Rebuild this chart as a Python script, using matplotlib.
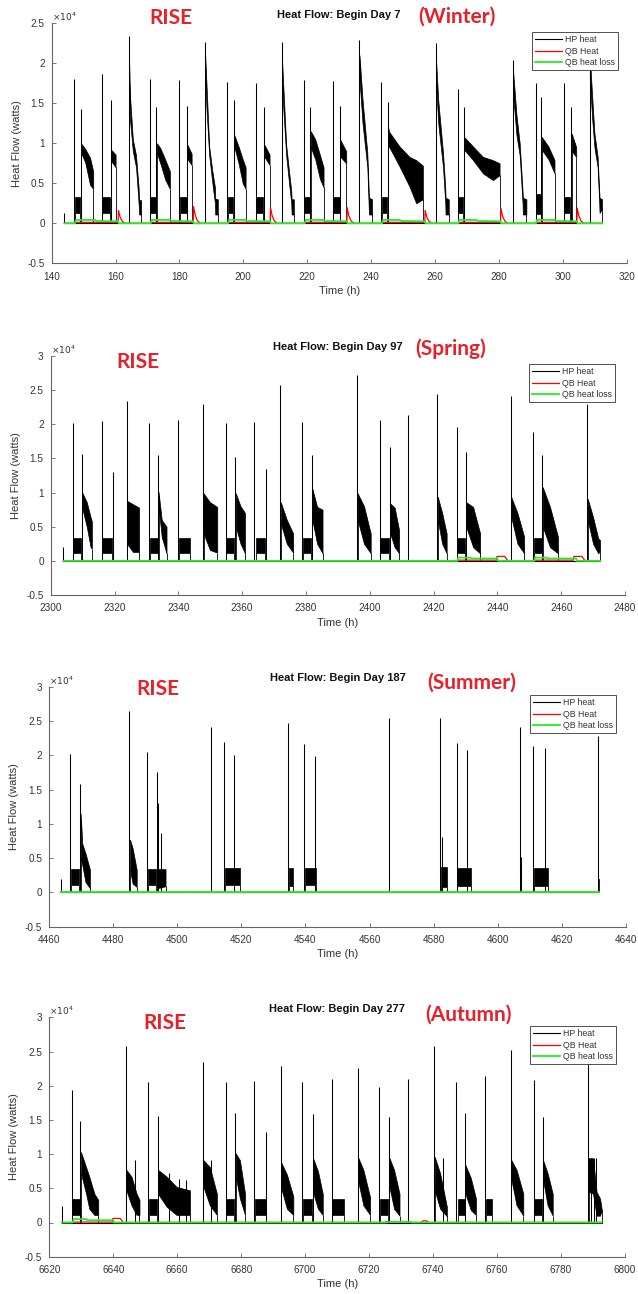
import matplotlib
matplotlib.use("Agg")
import matplotlib.pyplot as plt

W, H = 638, 1294

# ---------------- data ----------------
TITLES = ["Heat Flow: Begin Day 7", "Heat Flow: Begin Day 97",
          "Heat Flow: Begin Day 187", "Heat Flow: Begin Day 277"]
SEASONS = ["(Winter)", "(Spring)", "(Summer)", "(Autumn)"]
XLIMS = [(140, 320), (2300, 2480), (4460, 4640), (6620, 6800)]
YTOPS = [25000, 30000, 30000, 30000]
LEGEND_LABELS = ["HP heat", "QB Heat", "QB heat loss"]
T_RANGE = [(144.0, 312.3), (2304.0, 2472.2), (4463.5, 4631.6), (6623.9, 6792.7)]

# ---- Winter (Day 7) ----
W_SPIKE_T = [144.0, 147.0, 149.1, 155.8, 158.5, 164.1, 170.8, 172.8, 180.0, 182.4,
             188.0, 195.0, 197.1, 203.9, 206.5, 212.0, 219.0, 221.0, 228.0, 230.3,
             236.3, 243.1, 245.2, 260.2, 267.2, 269.0, 284.4, 291.5, 293.3, 300.3,
             302.7, 308.4]
W_SPIKE_V = [1300, 18000, 14300, 18700, 15400, 23400, 18000, 14600, 17900, 14700,
             22700, 17700, 15400, 17500, 14600, 22700, 17900, 14600, 17800, 14700,
             22900, 17700, 15200, 22500, 16800, 14600, 20400, 17500, 15800, 17500,
             14600, 22900]
W_BAND_T = [
    [147.2, 149.0], [149.2, 150.5, 152.0, 153.0],
    [155.9, 158.4], [158.6, 160.0],
    [164.15, 164.5, 165.4, 166.4, 167.2, 167.4, 168.0],
    [170.9, 172.7], [172.9, 174.0, 175.5, 177.0],
    [180.1, 182.2], [182.5, 183.8],
    [188.05, 188.5, 189.3, 190.3, 191.1, 191.2, 192.0],
    [195.1, 196.9], [197.2, 198.5, 199.8, 200.7],
    [204.0, 206.3], [206.6, 208.2],
    [212.05, 212.4, 213.4, 214.3, 215.0, 215.1, 215.8],
    [219.1, 220.9], [221.1, 222.5, 224.0, 225.1],
    [228.1, 230.1], [230.4, 232.2],
    [236.35, 237.3, 238.8, 239.2, 239.3, 240.3],
    [243.4, 244.9], [245.3, 245.7, 248.9, 252.0, 254.1, 256.2],
    [260.25, 261.0, 262.5, 263.2, 263.3, 264.3],
    [267.3, 268.9], [269.1, 271.9, 275.0, 278.1, 280.2],
    [284.45, 285.5, 286.5, 287.4, 287.5, 288.6],
    [291.6, 293.1], [293.4, 295.5, 297.4],
    [300.5, 302.4], [302.8, 304.2],
    [308.45, 309.2, 309.9, 310.9, 311.4, 311.5, 312.3],
]
W_BAND_HI = [
    [3300, 3300], [10000, 9300, 8200, 6500],
    [3300, 3300], [9200, 8600],
    [22000, 16000, 10500, 8500, 4500, 2900, 2900],
    [3300, 3300], [10000, 9400, 8000, 6500],
    [3300, 3300], [9800, 8700],
    [21000, 17000, 9600, 6500, 4500, 3100, 3000],
    [3300, 3300], [11000, 9600, 8000, 7000],
    [3300, 3300], [9800, 8600],
    [21000, 18000, 9800, 6500, 4000, 3000, 3000],
    [3300, 3300], [11500, 10500, 8500, 7000],
    [3300, 3300], [10400, 9000],
    [21000, 15500, 8800, 4500, 3200, 3000],
    [3300, 3300], [12000, 11400, 9600, 8300, 7900, 7200],
    [21000, 15400, 8800, 4500, 3200, 3000],
    [3300, 3300], [10800, 9600, 8300, 7900, 7500],
    [19000, 13500, 10000, 4000, 3200, 3000],
    [3700, 3700], [10800, 9600, 7900],
    [3300, 3300], [11200, 9500],
    [21000, 15800, 11250, 8300, 4000, 3200, 3000],
]
W_BAND_LO = [
    [1300, 1300], [8800, 7600, 4800, 4300],
    [1300, 1300], [7800, 7000],
    [19000, 13000, 9000, 7000, 2500, 1100, 1100],
    [1300, 1300], [8800, 7500, 5500, 4300],
    [1300, 1300], [8000, 7300],
    [18000, 14000, 8500, 5000, 2500, 1100, 1100],
    [1300, 1300], [9500, 7500, 5000, 4300],
    [1300, 1300], [8300, 7300],
    [18000, 15000, 8500, 5000, 2500, 1100, 1100],
    [1300, 1300], [9500, 8000, 5500, 4500],
    [1300, 1300], [8300, 7500],
    [18000, 12500, 7000, 2500, 1100, 1100],
    [1300, 1300], [9500, 9500, 7100, 4600, 2500, 3000],
    [18000, 12500, 7000, 2500, 1100, 1100],
    [1300, 1300], [9200, 7900, 6250, 5400, 6000],
    [16000, 11000, 8500, 2500, 1100, 1100],
    [1200, 1200], [9200, 8000, 6250],
    [1300, 1300], [9000, 8300],
    [18000, 13000, 9500, 7000, 2500, 1300, 1800],
]
W_RED_T = [144.0, 147.3, 147.5, 160.8, 160.9, 161.4, 162.1, 163.0,
           171.0, 171.2, 184.3, 184.4, 184.9, 185.6, 186.5,
           195.2, 195.4, 208.4, 208.5, 209.0, 209.7, 210.6,
           219.2, 219.4, 232.4, 232.5, 233.0, 233.7, 234.6,
           243.4, 243.6, 256.8, 256.9, 257.4, 258.1, 259.0,
           267.3, 267.5, 280.5, 280.6, 281.1, 281.8, 282.7,
           291.6, 291.8, 304.4, 304.5, 305.0, 305.7, 306.6, 312.3]
W_RED_V = [0, 0, 120, 120, 1600, 800, 250, 0,
           0, 120, 120, 2100, 1050, 320, 0,
           0, 120, 120, 1950, 950, 300, 0,
           0, 120, 120, 1950, 950, 300, 0,
           0, 120, 120, 1600, 800, 250, 0,
           0, 120, 120, 1900, 950, 300, 0,
           0, 120, 120, 1900, 950, 300, 0, 0]
W_GREEN_T = [144.0,
             147.3, 147.6, 153.5, 154.0, 160.8, 161.0,
             171.0, 171.3, 177.0, 177.5, 184.3, 184.5,
             195.2, 195.5, 200.7, 201.2, 208.4, 208.6,
             219.2, 219.5, 225.1, 225.6, 232.4, 232.6,
             243.4, 243.7, 249.0, 249.5, 256.8, 257.0,
             267.3, 267.6, 273.0, 273.5, 280.5, 280.7,
             291.6, 291.9, 297.4, 297.9, 304.4, 304.6,
             312.3]
W_GREEN_V = [0,
             0, 420, 420, 290, 250, 0,
             0, 420, 420, 290, 250, 0,
             0, 420, 420, 290, 250, 0,
             0, 420, 420, 290, 250, 0,
             0, 420, 420, 290, 250, 0,
             0, 420, 420, 290, 250, 0,
             0, 420, 420, 290, 250, 0,
             0]

# ---- Spring (Day 97) ----
SP_SPIKE_T = [2304.0, 2306.9, 2309.7, 2316.0, 2319.4, 2323.8, 2330.9, 2333.7, 2340.0,
              2347.8, 2354.9, 2357.9, 2363.8, 2367.4, 2372.0, 2378.9, 2381.9, 2396.1,
              2403.1, 2406.3, 2412.1, 2421.2, 2427.3, 2430.1, 2444.2, 2451.3, 2454.1,
              2468.2]
SP_SPIKE_V = [2000, 20200, 15700, 20500, 13000, 23400, 20200, 15500, 20700,
              23000, 20200, 15200, 20300, 13400, 25700, 20400, 15500, 27200,
              20600, 16700, 21400, 24400, 19600, 16000, 24100, 18900, 15500,
              23000]
SP_BAND_T = [
    [2307.1, 2309.5], [2309.8, 2311.3, 2312.5, 2312.9],
    [2316.2, 2319.2],
    [2323.9, 2325.8, 2327.7],
    [2331.1, 2333.5], [2333.8, 2334.8, 2336.3],
    [2340.2, 2343.8],
    [2347.9, 2349.9, 2352.2],
    [2355.1, 2357.6], [2358.0, 2359.5, 2360.9],
    [2364.4, 2367.2],
    [2372.1, 2374.0, 2376.0],
    [2379.1, 2381.7], [2382.0, 2383.5, 2385.2],
    [2396.2, 2398.2, 2400.3],
    [2403.3, 2406.0], [2406.4, 2407.8, 2409.2],
    [2421.3, 2422.7, 2424.1],
    [2427.5, 2429.9], [2430.2, 2432.4, 2434.6],
    [2444.3, 2446.3, 2448.4],
    [2451.5, 2453.9], [2454.2, 2456.5, 2459.0],
    [2468.3, 2470.0, 2471.6, 2472.2],
]
SP_BAND_HI = [
    [3400, 3400], [10100, 8600, 6400, 5800],
    [3400, 3400],
    [8800, 8300, 7800],
    [3400, 3400], [10100, 6000, 5000],
    [3400, 3400],
    [9900, 8600, 7900],
    [3400, 3400], [9900, 8000, 7000],
    [3400, 3400],
    [8600, 6000, 4000],
    [3400, 3400], [10600, 7900, 7500],
    [9900, 8000, 4000],
    [3400, 3400], [8400, 7800, 4500],
    [9400, 7000, 4000],
    [3400, 3400], [8600, 7900, 4000],
    [9400, 7000, 3500],
    [3400, 3400], [10800, 7900, 3500],
    [9100, 6400, 3300, 3000],
]
SP_BAND_LO = [
    [1100, 1100], [7900, 5000, 2000, 1800],
    [1100, 1100],
    [2500, 1300, 1300],
    [1100, 1100], [8000, 3500, 1100],
    [1100, 1100],
    [4000, 1600, 1200],
    [1100, 1100], [5000, 2500, 1100],
    [1100, 1100],
    [5500, 2500, 1200],
    [1100, 1100], [6000, 2500, 1100],
    [6000, 2500, 1100],
    [1100, 1100], [4000, 2000, 1100],
    [6000, 2500, 1100],
    [1100, 1100], [5000, 2000, 1100],
    [6500, 2500, 1100],
    [1100, 1100], [5000, 2000, 1100],
    [6000, 2500, 1100, 1500],
]
SP_RED_T = [2304.0, 2427.2, 2427.4, 2439.7, 2439.9, 2442.3, 2443.3,
            2451.3, 2451.5, 2463.8, 2464.0, 2466.5, 2467.5, 2472.2]
SP_RED_V = [0, 0, 100, 100, 650, 650, 0,
            0, 100, 100, 650, 650, 0, 0]
SP_GREEN_T = [2304.0, 2427.5, 2427.7, 2431.5, 2432.0, 2440.0, 2440.2,
              2451.6, 2451.8, 2455.4, 2455.9, 2464.7, 2464.9, 2472.2]
SP_GREEN_V = [0, 0, 480, 480, 340, 340, 0,
              0, 480, 480, 340, 340, 0, 0]

# ---- Summer (Day 187) ----
SU_SPIKE_T = [4463.5, 4466.5, 4469.7, 4485.0, 4490.5, 4493.6, 4494.0, 4494.9, 4510.5,
              4514.6, 4517.8, 4534.4, 4539.4, 4542.9, 4566.1, 4582.1, 4582.6, 4587.2,
              4590.4, 4607.1, 4607.4, 4611.2, 4614.9, 4631.4]
SU_SPIKE_V = [1900, 20200, 15800, 26500, 20500, 17500, 13000, 8600, 24100,
              22000, 20000, 24700, 21600, 19900, 25400, 25500, 8100, 21800,
              20800, 24100, 5200, 21400, 21100, 22800]
SU_BAND_T = [
    [4466.8, 4469.4], [4469.8, 4470.3, 4471.3, 4472.7],
    [4485.2, 4486.0, 4487.3],
    [4490.8, 4493.4], [4493.7, 4496.3],
    [4514.9, 4519.5],
    [4534.7, 4536.0],
    [4539.8, 4543.4],
    [4582.2, 4584.1],
    [4587.4, 4591.6],
    [4611.5, 4615.7],
    [4631.45, 4631.6],
]
SU_BAND_HI = [
    [3400, 3400], [11500, 7100, 5700, 3300],
    [7700, 6500, 3300],
    [3400, 3400], [3400, 3400],
    [3600, 3600],
    [3600, 3600],
    [3500, 3500],
    [3700, 3700],
    [3600, 3600],
    [3600, 3600],
    [1900, 1900],
]
SU_BAND_LO = [
    [1100, 1100], [5000, 4000, 1500, 600],
    [3300, 1300, 800],
    [1100, 1100], [600, 900],
    [1100, 1100],
    [900, 900],
    [1100, 1100],
    [800, 800],
    [900, 900],
    [900, 900],
    [1600, 1600],
]
SU_RED_T = [4463.5, 4502.8, 4503.0, 4503.3, 4631.6]
SU_RED_V = [0, 0, 150, 0, 0]
SU_GREEN_T = [4463.5, 4631.6]
SU_GREEN_V = [0, 0]

# ---- Autumn (Day 277) ----
AU_SPIKE_T = [6623.9, 6627.0, 6629.7, 6644.0, 6646.8, 6651.0, 6653.9, 6657.5, 6660.5,
              6662.8, 6668.1, 6670.5, 6675.1, 6678.2, 6684.1, 6687.7, 6692.3, 6699.1,
              6702.3, 6708.3, 6716.4, 6723.2, 6726.1, 6732.3, 6740.4, 6743.2, 6747.2,
              6750.0, 6756.3, 6764.4, 6771.4, 6774.3, 6788.5, 6789.3, 6790.2, 6790.8]
AU_SPIKE_V = [2400, 19300, 14800, 25800, 9200, 20500, 15600, 7200, 6300,
              6200, 23400, 9200, 20500, 16000, 20700, 13300, 22900, 20500,
              15800, 21000, 22600, 19800, 15400, 21000, 25800, 9400, 20600,
              16000, 21400, 25200, 20800, 15400, 23400, 9400, 9400, 9400]
AU_BAND_T = [
    [6627.2, 6629.5], [6629.9, 6631.5, 6632.5, 6634.1, 6635.3],
    [6644.1, 6645.7, 6647.3, 6648.2],
    [6651.2, 6653.7], [6654.0, 6656.7, 6659.8, 6664.0],
    [6668.2, 6670.2, 6672.4],
    [6675.3, 6677.9], [6678.3, 6679.6, 6681.2],
    [6684.3, 6687.6],
    [6692.4, 6694.3, 6696.3],
    [6699.3, 6702.1], [6702.4, 6704.0, 6705.5],
    [6708.5, 6712.0],
    [6716.5, 6718.2, 6720.3],
    [6723.4, 6725.9], [6726.2, 6727.8, 6729.5],
    [6740.5, 6742.2, 6744.3],
    [6747.9, 6750.0], [6750.1, 6751.8, 6753.4],
    [6756.5, 6758.3],
    [6764.5, 6766.1, 6768.2],
    [6771.6, 6774.1], [6774.4, 6775.8, 6777.4],
    [6788.6, 6790.0, 6791.1, 6792.2, 6792.7],
]
AU_BAND_HI = [
    [3400, 3400], [10300, 8100, 6700, 4200, 3300],
    [7700, 6700, 4200, 3300],
    [3400, 3400], [7700, 6700, 5200, 4700],
    [9100, 8100, 4200],
    [3400, 3400], [10100, 9100, 4200],
    [3400, 3400],
    [8900, 7000, 3800],
    [3400, 3400], [9500, 7500, 4200],
    [3400, 3400],
    [9600, 7700, 3700],
    [3400, 3400], [9600, 7700, 4200],
    [9600, 7200, 2300],
    [3400, 3400], [8400, 6500, 3500],
    [3400, 3400],
    [9100, 7700, 4200],
    [3400, 3400], [9100, 7200, 4200],
    [9400, 9400, 4500, 3500, 2000],
]
AU_BAND_LO = [
    [1100, 1100], [7200, 4200, 2000, 1100, 1100],
    [4700, 2500, 1100, 1100],
    [1100, 1100], [4200, 2300, 1100, 1100],
    [5200, 2500, 1100],
    [1100, 1100], [6700, 3500, 1100],
    [1100, 1100],
    [5200, 2000, 1100],
    [1100, 1100], [4500, 2000, 1100],
    [1100, 1100],
    [6200, 2500, 1100],
    [1100, 1100], [5500, 2000, 1000],
    [4700, 2000, 900],
    [1100, 1100], [4200, 1800, 1100],
    [1100, 1100],
    [6200, 2500, 1000],
    [1100, 1100], [6200, 2500, 1000],
    [4500, 4200, 1000, 1000, 1800],
]
AU_RED_T = [6623.9, 6627.0, 6627.2, 6639.7, 6639.9, 6642.2, 6643.1,
            6725.0, 6725.2, 6733.0, 6733.2, 6736.0, 6737.0, 6738.0, 6738.6, 6792.7]
AU_RED_V = [0, 0, 60, 60, 600, 600, 0,
            0, 120, 120, 0, 0, 250, 250, 0, 0]
AU_GREEN_T = [6623.9, 6627.3, 6627.6, 6631.5, 6632.0, 6640.0, 6640.2,
              6725.5, 6725.7, 6733.0, 6733.2, 6792.7]
AU_GREEN_V = [0, 0, 500, 500, 330, 330, 0,
              0, 80, 80, 0, 0]

PANELS = [
    (W_SPIKE_T, W_SPIKE_V, W_BAND_T, W_BAND_LO, W_BAND_HI, W_RED_T, W_RED_V, W_GREEN_T, W_GREEN_V),
    (SP_SPIKE_T, SP_SPIKE_V, SP_BAND_T, SP_BAND_LO, SP_BAND_HI, SP_RED_T, SP_RED_V, SP_GREEN_T, SP_GREEN_V),
    (SU_SPIKE_T, SU_SPIKE_V, SU_BAND_T, SU_BAND_LO, SU_BAND_HI, SU_RED_T, SU_RED_V, SU_GREEN_T, SU_GREEN_V),
    (AU_SPIKE_T, AU_SPIKE_V, AU_BAND_T, AU_BAND_LO, AU_BAND_HI, AU_RED_T, AU_RED_V, AU_GREEN_T, AU_GREEN_V),
]

# ---------------- layout (pixels) ----------------
AX_BOXES = [  # left, right, top, bottom
    (51.7, 626.7, 23.3, 263.3),
    (50.7, 625.0, 356.0, 595.0),
    (49.3, 625.7, 686.7, 926.7),
    (49.3, 625.0, 1017.3, 1256.7),
]
RISE_POS = [(170.5, 18.5), (138, 362.5), (157.5, 689), (165, 1023)]
SEASON_POS = [(457, 17), (450.5, 348.5), (471.5, 683), (468, 1015)]
LEGEND_TR = [(618, 32), (615, 364), (616, 695), (616, 1026)]

plt.rcParams['font.family'] = ['Liberation Sans', 'DejaVu Sans']
fig = plt.figure(figsize=(W / 100, H / 100), dpi=100)

RED_TXT = '#e8202a'
AX_COL = '#666666'
TXT_COL = '#333333'

for i, (sp_t, sp_v, b_t, b_lo, b_hi, r_t, r_v, g_t, g_v) in enumerate(PANELS):
    l, r, t, b = AX_BOXES[i]
    ax = fig.add_axes([l / W, 1 - b / H, (r - l) / W, (b - t) / H])
    t0, t1 = T_RANGE[i]
    # HP heat
    hp_line, = ax.plot([t0, t1], [0, 0], color='k', lw=0.8)
    ax.vlines(sp_t, 0, sp_v, colors='k', lw=0.75)
    for bt, blo, bhi in zip(b_t, b_lo, b_hi):
        ax.fill_between(bt, blo, bhi, color='k', lw=0.5)
        ax.vlines([bt[0], bt[-1]], 0, [blo[0], blo[-1]], colors='k', lw=0.6)
    # QB heat
    red_line, = ax.plot(r_t, r_v, color='#ff0000', lw=0.9)
    # QB heat loss
    green_line, = ax.plot(g_t, g_v, color='#22ee22', lw=1.3)

    ax.set_xlim(*XLIMS[i])
    ax.set_ylim(-5000, YTOPS[i])
    xt = list(range(XLIMS[i][0], XLIMS[i][1] + 1, 20))
    ax.set_xticks(xt)
    ax.set_xticklabels([str(v) for v in xt])
    yt = list(range(-5000, YTOPS[i] + 1, 5000))
    ax.set_yticks(yt)
    ax.set_yticklabels([('%g' % (v / 1e4)) for v in yt])
    for s in ['top', 'right']:
        ax.spines[s].set_visible(False)
    for s in ['left', 'bottom']:
        ax.spines[s].set_color(AX_COL)
        ax.spines[s].set_linewidth(0.8)
    ax.tick_params(direction='in', length=3, width=0.6, color=AX_COL,
                   labelcolor=TXT_COL, labelsize=7.2)
    ax.tick_params(axis='x', pad=6)
    ax.tick_params(axis='y', pad=5)
    ax.set_xlabel('Time (h)', fontsize=8, color=TXT_COL, labelpad=3)
    ax.set_ylabel('Heat Flow (watts)', fontsize=8, color=TXT_COL, labelpad=4)
    ax.set_title(TITLES[i], fontsize=8, fontweight='bold', color='#111111', pad=4)
    ax.text(0.0, 1.0, r'$\times10^{4}$', transform=ax.transAxes, fontsize=6.5,
            color=TXT_COL, ha='left', va='bottom')

    lx, ly = LEGEND_TR[i]
    leg = ax.legend([hp_line, red_line, green_line], LEGEND_LABELS,
                    loc='upper right', bbox_to_anchor=(lx / W, 1 - ly / H),
                    bbox_transform=fig.transFigure, fontsize=6.3, frameon=True,
                    fancybox=False, edgecolor='#333333', framealpha=1,
                    borderpad=0.35, handlelength=3.1, handletextpad=0.3,
                    labelspacing=0.3, borderaxespad=0)
    leg.get_frame().set_linewidth(0.6)
    for txt in leg.get_texts():
        txt.set_color(TXT_COL)

    rx, ry = RISE_POS[i]
    fig.text(rx / W, 1 - ry / H, 'RISE', color=RED_TXT, fontsize=15,
             fontweight='bold', family='Lato', ha='center', va='center')
    sx, sy = SEASON_POS[i]
    fig.text(sx / W, 1 - sy / H, SEASONS[i], color=RED_TXT, fontsize=15,
             fontweight='bold', family='Lato', ha='center', va='center')

fig.savefig('out.png', dpi=100, facecolor='white')
